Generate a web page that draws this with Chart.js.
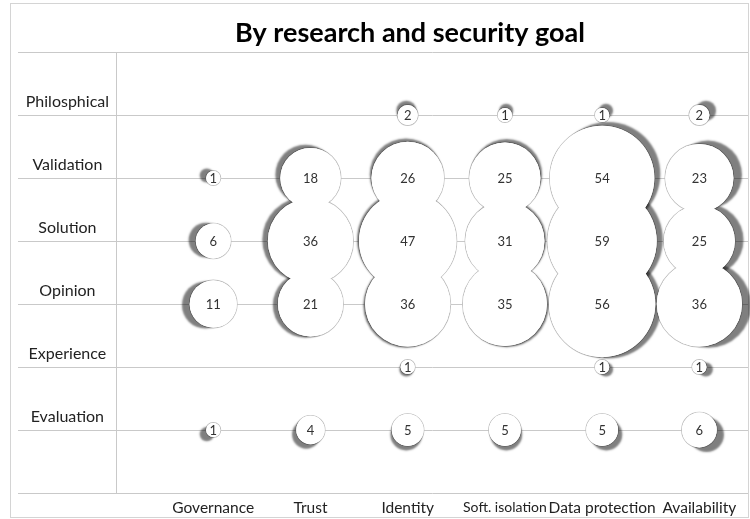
<!DOCTYPE html>
<html>
<head>
<meta charset="utf-8">
<script src="https://cdn.jsdelivr.net/npm/chart.js@4/dist/chart.umd.min.js"></script>
<style>
  html, body { margin: 0; padding: 0; background: #fff; }
  #wrap { width: 750px; height: 519px; }
</style>
</head>
<body>
<div id="wrap"><canvas id="c" width="750" height="519"></canvas></div>
<script>
const title = 'By research and security goal';
const goals = ['Governance', 'Trust', 'Identity', 'Soft. isolation', 'Data protection', 'Availability'];
const researchTypes = ['', 'Evaluation', 'Experience', 'Opinion', 'Solution', 'Validation', 'Philosphical', ''];
// counts per research type, one value per goal (null = no bubble)
const evaluation   = [1, 4, 5, 5, 5, 6];
const experience   = [null, null, 1, null, 1, 1];
const opinion      = [11, 21, 36, 35, 56, 36];
const solution     = [6, 36, 47, 31, 59, 25];
const validation   = [1, 18, 26, 25, 54, 23];
const philosphical = [null, null, 2, 1, 1, 2];

const rows = [evaluation, experience, opinion, solution, validation, philosphical];
const points = [];
rows.forEach((vals, ri) => {
  vals.forEach((v, gi) => {
    if (v !== null) points.push({ x: gi + 1, y: ri + 1, v: v });
  });
});
const SIZE_K = 7.1; // bubble area proportional to count

const FONT = 'Lato, "Open Sans", sans-serif';

// keep the plot area fixed (bubbles never leave it here)
Chart.BubbleController.prototype.getMaxOverflow = function () { return 0; };

const framePlugin = {
  id: 'frame',
  beforeDraw(chart) {
    const ctx = chart.ctx;
    ctx.save();
    ctx.fillStyle = '#ffffff';
    ctx.fillRect(0, 0, chart.width, chart.height);
    ctx.strokeStyle = '#d4d4d4';
    ctx.lineWidth = 1;
    ctx.strokeRect(10.5, 3.5, 738, 514);
    ctx.fillStyle = '#000';
    ctx.font = 'bold 27px ' + FONT;
    ctx.textAlign = 'center';
    ctx.textBaseline = 'middle';
    ctx.fillText(title, 410, 33);
    ctx.restore();
  }
};

const shadowPlugin = {
  id: 'bubbleShadow',
  beforeDatasetsDraw(chart) {
    const ctx = chart.ctx;
    const ca = chart.chartArea;
    const cx = (ca.left + ca.right) / 2 + 25;
    const cy = (ca.top + ca.bottom) / 2;
    const meta = chart.getDatasetMeta(0);
    ctx.save();
    meta.data.forEach(el => {
      const r = el.options.radius;
      ctx.beginPath();
      ctx.arc(el.x, el.y, r + 0.3, 0, Math.PI * 2);
      ctx.strokeStyle = '#c0c0c0';
      ctx.lineWidth = 1.2;
      ctx.stroke();
    });
    meta.data.forEach(el => {
      const r = el.options.radius;
      const f = 0.03 * (0.8 + r / 90);
      ctx.shadowColor = 'rgba(0,0,0,0.5)';
      ctx.shadowBlur = 2;
      ctx.shadowOffsetX = (el.x - cx) * f;
      ctx.shadowOffsetY = (el.y - cy) * f;
      ctx.beginPath();
      ctx.arc(el.x, el.y, r, 0, Math.PI * 2);
      ctx.fillStyle = '#ffffff';
      ctx.fill();
    });
    ctx.restore();
  },
  afterDatasetsDraw(chart) {
    const ctx = chart.ctx;
    const meta = chart.getDatasetMeta(0);
    const data = chart.data.datasets[0].data;
    ctx.save();
    ctx.font = '13px ' + FONT;
    ctx.fillStyle = '#333';
    ctx.textAlign = 'center';
    ctx.textBaseline = 'middle';
    meta.data.forEach((el, i) => {
      ctx.fillText(String(data[i].v), el.x, el.y + 1);
    });
    ctx.restore();
  }
};

new Chart(document.getElementById('c'), {
  type: 'bubble',
  data: {
    datasets: [{
      data: points,
      backgroundColor: '#ffffff',
      borderWidth: 0,
      hoverBorderWidth: 0,
      radius: ctx => {
        const p = ctx.raw;
        return p ? SIZE_K * Math.sqrt(p.v) : 0;
      }
    }]
  },
  options: {
    responsive: false,
    animation: false,
    events: [],
    layout: { padding: { left: 18, right: 2, top: 52, bottom: 0 } },
    plugins: {
      legend: { display: false },
      tooltip: { enabled: false }
    },
    scales: {
      x: {
        type: 'linear',
        min: 0,
        max: 6.5,
        afterFit: s => { s.height = 26; },
        afterBuildTicks: s => { s.ticks = goals.map((g, i) => ({ value: i + 1 })); },
        grid: { display: false, drawTicks: false },
        border: { display: false },
        ticks: {
          padding: 6,
          color: '#222',
          font: c => ({ family: FONT, size: c.index === 3 ? 14 : 15.5 }),
          callback: v => goals[v - 1] || ''
        }
      },
      y: {
        type: 'linear',
        min: 0,
        max: 7,
        afterFit: s => { s.width = 98; },
        grid: { color: '#c9c9c9', lineWidth: 1, drawTicks: true, tickLength: 98, tickColor: '#c9c9c9' },
        border: { display: true, color: '#c9c9c9' },
        ticks: {
          stepSize: 1,
          padding: -91,
          crossAlign: 'center',
          labelOffset: -13,
          color: '#222',
          font: { family: FONT, size: 16 },
          callback: v => researchTypes[v] || ''
        }
      }
    }
  },
  plugins: [framePlugin, shadowPlugin]
});
</script>
</body>
</html>
